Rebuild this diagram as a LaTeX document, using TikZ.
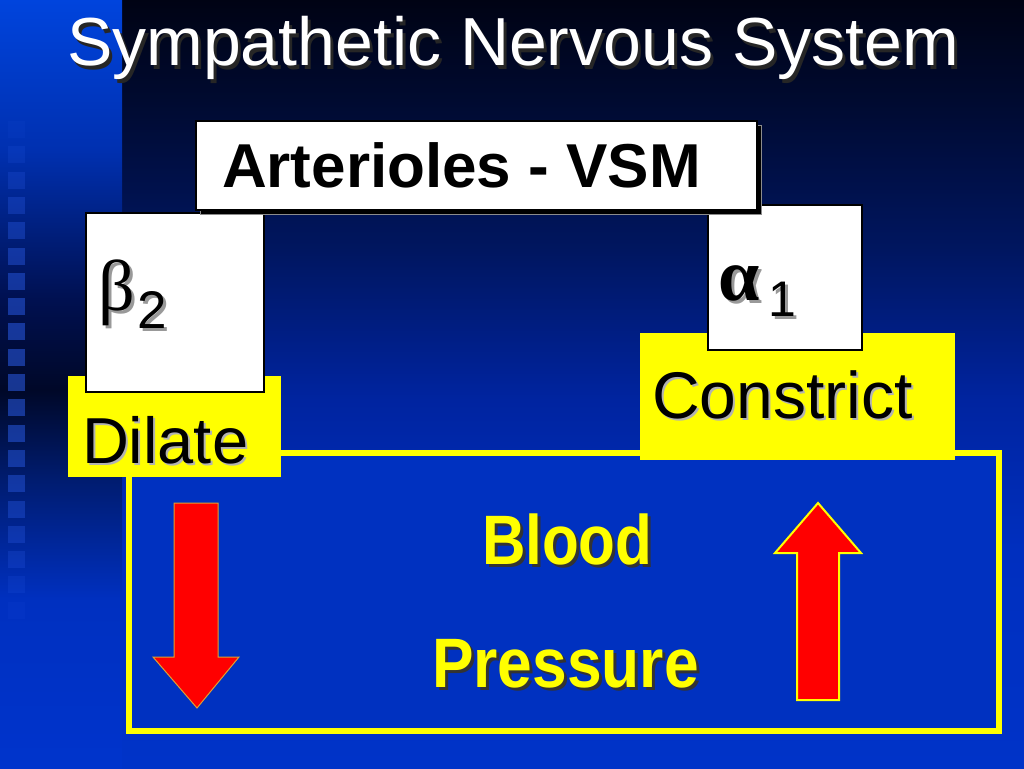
\documentclass[tikz,border=0pt]{standalone}
\usepackage{fontspec}
\setmainfont{Liberation Sans}
\newfontfamily\grkfont{Liberation Serif}
\definecolor{mbA}{HTML}{000314}
\definecolor{mbB}{HTML}{000A30}
\definecolor{mbC}{HTML}{001660}
\definecolor{mbD}{HTML}{0024A0}
\definecolor{mbE}{HTML}{002FBF}
\definecolor{mbF}{HTML}{0033C8}
\definecolor{lsA}{HTML}{0044DD}
\definecolor{lsB}{HTML}{0030B0}
\definecolor{lsC}{HTML}{001050}
\definecolor{lsD}{HTML}{000828}
\definecolor{lsE}{HTML}{001C70}
\definecolor{lsF}{HTML}{0030C0}
\definecolor{lsG}{HTML}{0034CC}
\definecolor{bpfill}{HTML}{0031C0}
\definecolor{sqcol}{HTML}{2A5CE8}
\definecolor{pyellow}{HTML}{FFFF00}
\definecolor{pred}{HTML}{FF0000}
\definecolor{dnedge}{HTML}{E0A030}
\pgfdeclareverticalshading{mainbg}{100bp}{color(0bp)=(mbF); color(25bp)=(mbF); color(39.19bp)=(mbE); color(48.96bp)=(mbD); color(58.72bp)=(mbC); color(68.49bp)=(mbB); color(75bp)=(mbA); color(100bp)=(mbA)}
\pgfdeclareverticalshading{stripbg}{100bp}{color(0bp)=(lsG); color(25bp)=(lsG); color(35.94bp)=(lsF); color(43.75bp)=(lsE); color(49.61bp)=(lsD); color(55.47bp)=(lsC); color(65.23bp)=(lsB); color(75bp)=(lsA); color(100bp)=(lsA)}
\begin{document}
\begin{tikzpicture}[x=1pt,y=-1pt,
  tx/.style={inner sep=0pt, outer sep=0pt, anchor=base west},
  wbox/.style={draw=black, line width=2.5pt, fill=white, inner sep=0pt, outer sep=0pt},
  ybox/.style={fill=pyellow, draw=none, inner sep=0pt, outer sep=0pt},
  bigbox/.style={draw=pyellow, line width=6pt, fill=bpfill, inner sep=0pt, outer sep=0pt},
  arrowshape/.style={fill=pred, line join=miter},
]
\useasboundingbox (0,0) rectangle (1024,768);
% background
\shade[shading=mainbg] (0,0) rectangle (1024,768);
\shade[shading=stripbg] (0,0) rectangle (122,768);
\foreach \k in {0,...,19}{
  \pgfmathsetmacro{\op}{0.55*sin(180*(\k+1)/21)}
  \fill[sqcol, fill opacity=\op] (8,{121+25.3*\k}) rectangle (25,{138+25.3*\k});
}
% title
\node[tx, anchor=base, text=black!85] (titlesh) at (516,69) {\fontsize{68}{80}\selectfont Sympathetic Nervous System};
\node[tx, anchor=base, text=white] (title) at (513,66) {\fontsize{68}{80}\selectfont Sympathetic Nervous System};
% big blood pressure box
\node[bigbox, minimum width=870pt, minimum height=278pt] (bp) at (563.5,592) {};
% yellow boxes
\node[ybox, minimum width=213pt, minimum height=101pt] (dil) at (174.5,426.5) {};
\node[ybox, minimum width=315pt, minimum height=127pt] (con) at (797.5,396.5) {};
% white receptor boxes
\node[wbox, minimum width=178pt, minimum height=179pt] (beta) at (175,302.5) {};
\node[wbox, minimum width=154pt, minimum height=145pt] (alpha) at (785,277.5) {};
% arterioles box with shadow
\node[fill=black, draw=black!45, line width=1pt, minimum width=561pt, minimum height=89pt, inner sep=0pt] (artsh) at (480.5,169.5) {};
\node[wbox, minimum width=561pt, minimum height=89pt] (art) at (476.5,165.5) {};
\node[tx] (arttext) at (222,187) {\fontsize{62}{72}\selectfont\bfseries Arterioles - VSM};
% beta 2
\node[tx, text=black!40] (b2sh) at (101,313) {\fontsize{72}{80}\selectfont\grkfont β};
\node[tx, text=black!40] (b2ssh) at (140,331) {\fontsize{53}{60}\selectfont 2};
\node[tx] (b2) at (98,310) {\fontsize{72}{80}\selectfont\grkfont β};
\node[tx] (b2s) at (137,328) {\fontsize{53}{60}\selectfont 2};
% alpha 1
\node[tx, text=black!40] (a1sh) at (721,303) {\fontsize{74}{80}\selectfont\grkfont\bfseries α};
\node[tx, text=black!40] (a1ssh) at (771,319) {\fontsize{50}{60}\selectfont 1};
\node[tx] (a1) at (718,300) {\fontsize{74}{80}\selectfont\grkfont\bfseries α};
\node[tx] (a1s) at (768,316) {\fontsize{50}{60}\selectfont 1};
% dilate / constrict
\node[tx, text=black!30] (dilsh) at (84,465) {\fontsize{65}{75}\selectfont Dilate};
\node[tx] (diltext) at (82,463) {\fontsize{65}{75}\selectfont Dilate};
\node[tx, text=black!30] (consh) at (654,420) {\fontsize{66}{75}\selectfont Constrict};
\node[tx] (context) at (652,418) {\fontsize{66}{75}\selectfont Constrict};
% blood pressure text
\node[tx, text=black!80] (bloodsh) at (485,567) {\scalebox{0.86}[1]{\fontsize{70}{80}\selectfont\bfseries Blood}};
\node[tx, text=pyellow] (blood) at (482,564) {\scalebox{0.86}[1]{\fontsize{70}{80}\selectfont\bfseries Blood}};
\node[tx, text=black!80] (pressh) at (435,690) {\scalebox{0.89}[1]{\fontsize{70}{80}\selectfont\bfseries Pressure}};
\node[tx, text=pyellow] (pres) at (432,687) {\scalebox{0.89}[1]{\fontsize{70}{80}\selectfont\bfseries Pressure}};
% arrows
\draw[arrowshape, draw=dnedge, line width=1pt] (174,503) -- (218,503) -- (218,657) -- (239,657) -- (197,708) -- (153,657) -- (174,657) -- cycle;
\draw[arrowshape, draw=pyellow, line width=2pt] (818,503) -- (861,553) -- (839,553) -- (839,700) -- (797,700) -- (797,553) -- (775,553) -- cycle;
\end{tikzpicture}
\end{document}
